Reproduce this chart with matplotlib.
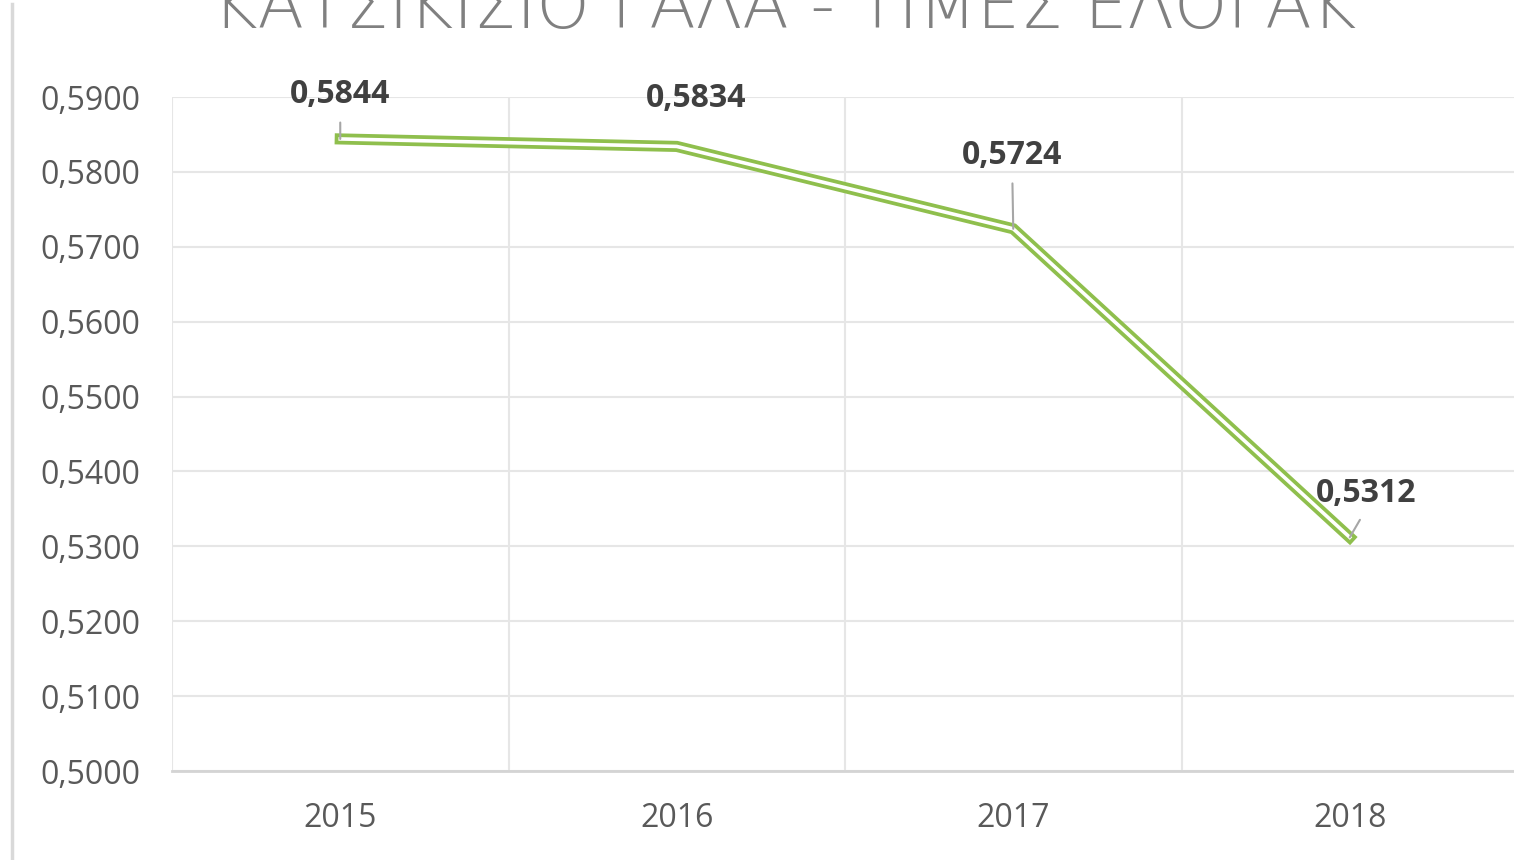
import matplotlib.pyplot as plt
import matplotlib.ticker as ticker
from matplotlib.lines import Line2D

# Data
years = ['2015', '2016', '2017', '2018']
prices = [0.5844, 0.5834, 0.5724, 0.5312]
label_offsets = [(0, 44), (19, 48), (-1, 73), (16, 44)]  # pixels, label centre vs point
show_leader = [True, False, True, True]

title = 'ΚΑΤΣΙΚΙΣΙΟ ΓΑΛΑ - ΤΙΜΕΣ ΕΛΟΓΑΚ'

green = '#8fbf4d'
grid_col = '#e6e6e6'
text_col = '#595959'

plt.rcParams['font.family'] = ['Open Sans', 'DejaVu Sans']

fig = plt.figure(figsize=(15.14, 8.6), dpi=100)
ax = fig.add_axes([172 / 1514, 1 - 771 / 860, (1518 - 172) / 1514, (771 - 97) / 860])

x = list(range(len(years)))

# double (compound) line: thick green with thin white core
ax.plot(x, prices, color=green, linewidth=8, solid_joinstyle='miter', zorder=3)
ax.plot(x, prices, color='white', linewidth=2.6, solid_joinstyle='miter', zorder=4)

for i, v in enumerate(prices):
    dx, dy = label_offsets[i]
    lab = f'{v:.4f}'.replace('.', ',')
    arrow = None
    if show_leader[i]:
        arrow = dict(arrowstyle='-', color='#a6a6a6', lw=1.5,
                     shrinkA=6, shrinkB=0, relpos=(0.5, 0.0))
    ax.annotate(lab, (i, v), xytext=(dx, dy), textcoords='offset pixels',
                ha='center', va='center', fontsize=23, fontweight='bold',
                color='#404040', arrowprops=arrow, zorder=5)

ax.set_xlim(-0.5, 3.5)
ax.set_ylim(0.50, 0.59)
ax.set_xticks(x)
ax.set_xticklabels(years)
ax.yaxis.set_major_locator(ticker.MultipleLocator(0.01))
ax.yaxis.set_major_formatter(ticker.FuncFormatter(lambda v, p: f'{v:.4f}'.replace('.', ',')))

# vertical gridlines at category boundaries
ax.set_xticks([k - 0.5 for k in range(len(years) + 1)], minor=True)
ax.grid(axis='x', which='minor', color=grid_col, linewidth=1.5)
ax.grid(axis='y', which='major', color=grid_col, linewidth=1.5)
ax.set_axisbelow(True)

for s in ['top', 'right', 'left']:
    ax.spines[s].set_visible(False)
ax.spines['bottom'].set_color('#d4d4d4')
ax.spines['bottom'].set_linewidth(2)

ax.tick_params(axis='both', which='both', length=0, labelsize=23, colors=text_col)
ax.tick_params(axis='y', pad=23)
ax.tick_params(axis='x', pad=22)

# chart-area border on the left
fig.add_artist(Line2D([12 / 1514, 12 / 1514], [0, 1 - 4 / 860],
                      transform=fig.transFigure, color='#d9d9d9', linewidth=2.5))

# title, cut off at the top of the picture as in the reference
fig.text(785 / 1514, 1 - 28 / 860, title, ha='center', va='baseline',
         fontsize=49, color='#808080', family=['DejaVu Sans'], fontweight='light')

fig.savefig('out.png', dpi=100)
